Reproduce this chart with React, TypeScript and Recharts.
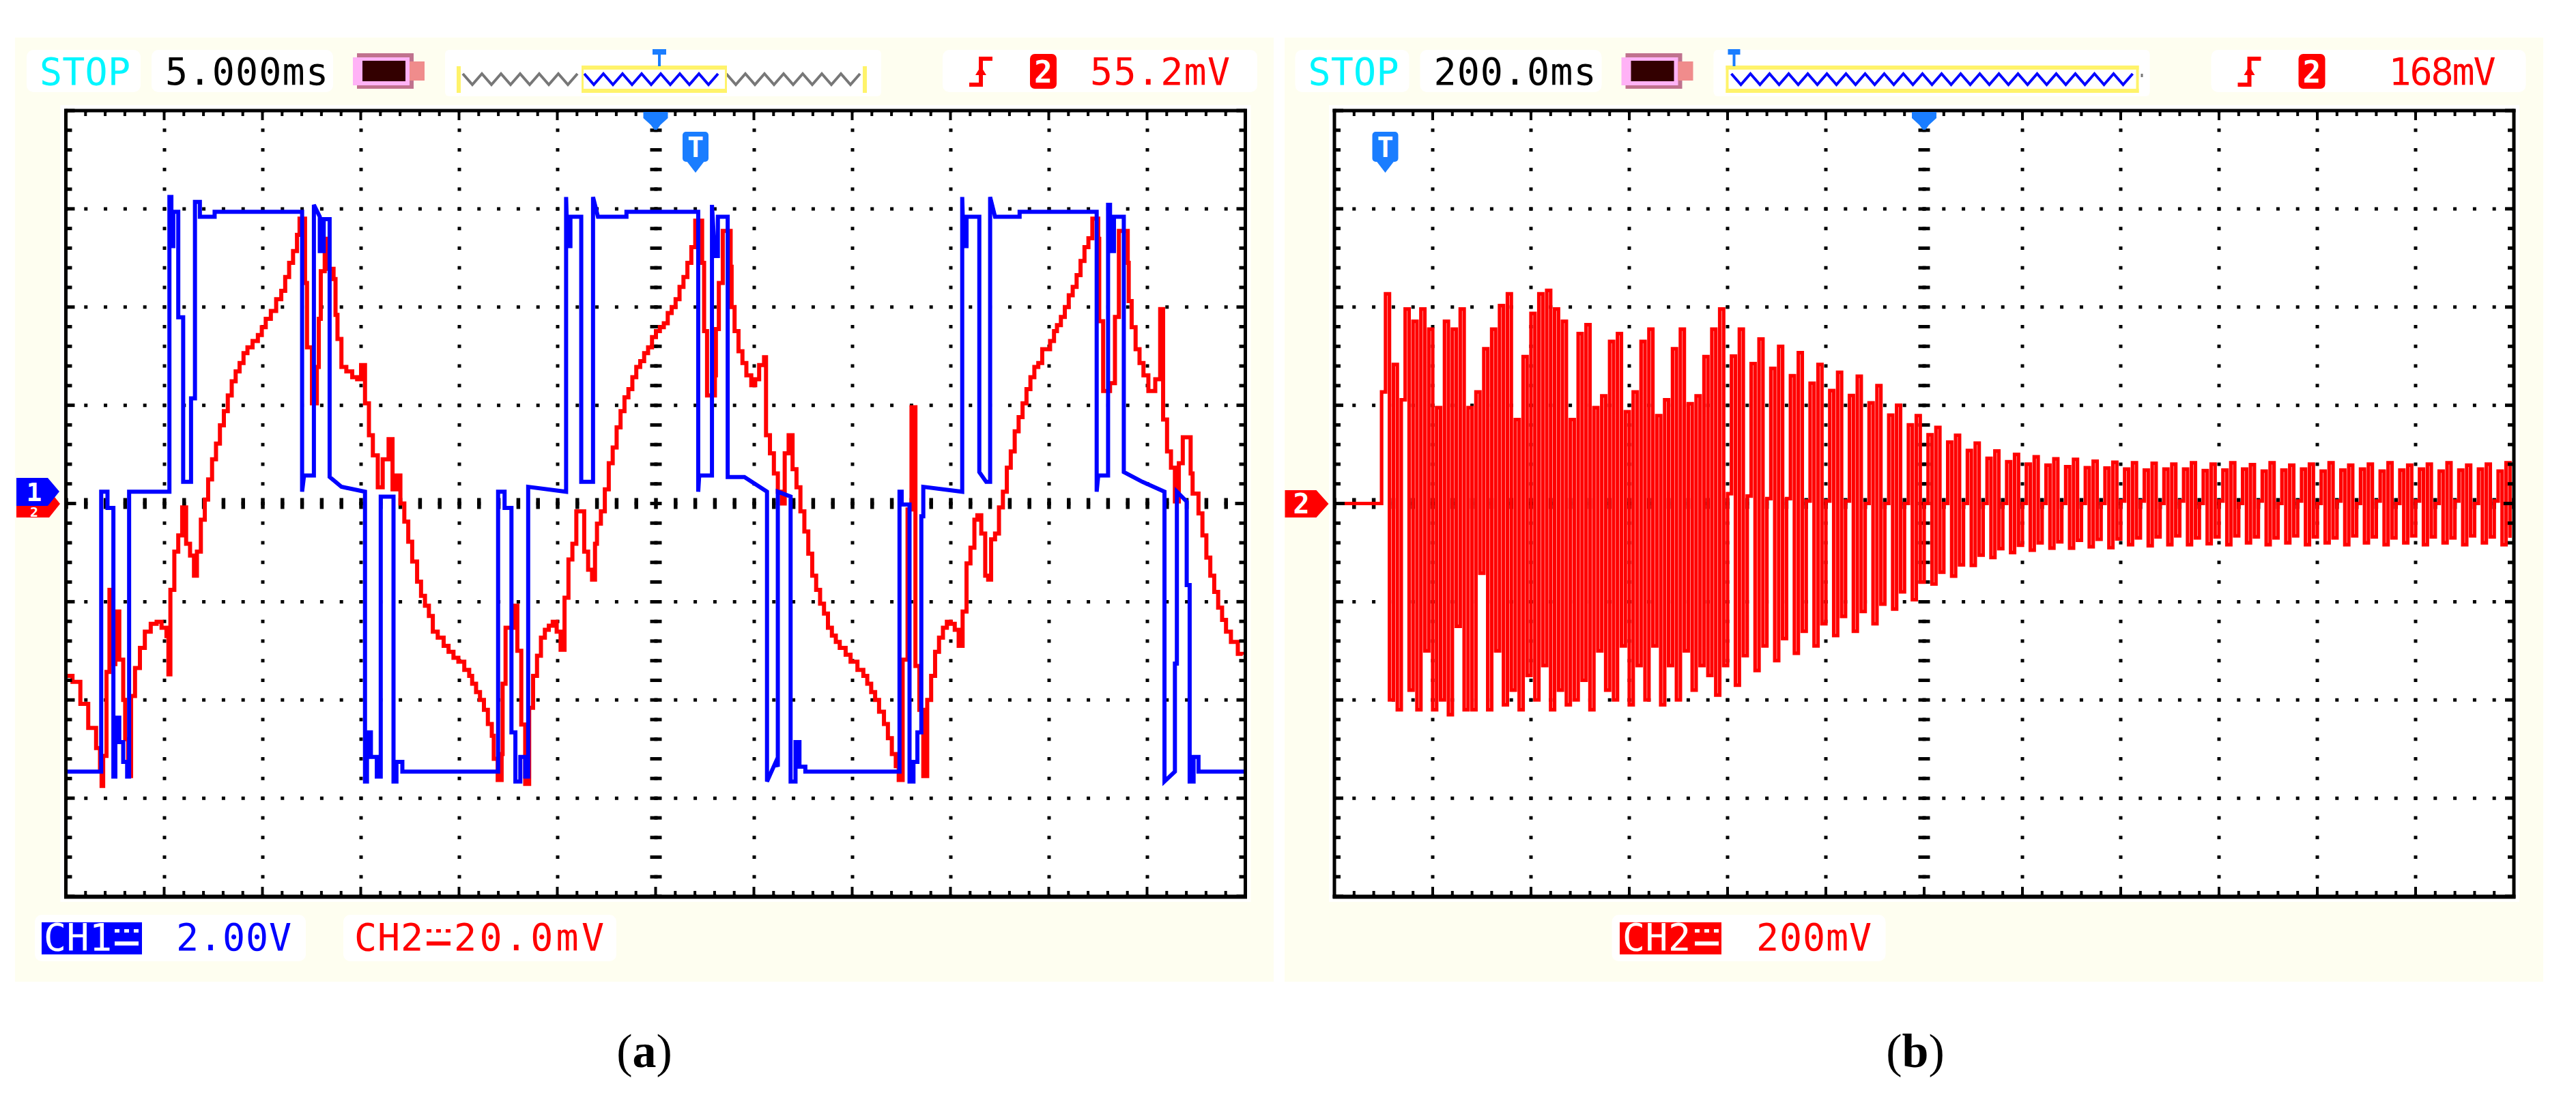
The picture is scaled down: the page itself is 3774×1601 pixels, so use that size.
import React from 'react';
import { LineChart, Line, XAxis, YAxis, CartesianGrid, ReferenceLine } from 'recharts';

// ---------------- data: panel (a) ----------------
// CH1 (blue, volts) — time in ms
const ch1TimeA = [
  0, 1.78, 1.78, 2.1, 2.1, 2.4, 2.4, 2.5, 2.5, 2.7, 2.7, 2.9, 2.9, 3.1, 3.1, 3.2, 3.2, 5.25, 5.25, 5.35, 5.35, 5.45, 5.45, 5.7, 5.7, 5.95, 5.95, 6.35, 6.35, 6.55, 6.55, 6.8, 6.8, 7.55, 7.55, 12.0, 12.0, 12.1, 12.6, 12.6, 12.9, 12.9, 13.1, 13.1, 13.4, 13.4, 14.0, 15.2, 15.2, 15.3, 15.3, 15.5, 15.5, 15.8, 15.8, 16.0, 16.0, 16.65, 16.65, 16.8, 16.8, 17.1, 17.1, 21.97,
  21.97, 22.3, 22.3, 22.65, 22.65, 22.85, 22.85, 23.1, 23.1, 23.35, 23.35, 23.5, 23.5, 25.43, 25.43, 25.5, 25.65, 25.65, 26.2, 26.2, 26.8, 26.8, 27.05, 28.5, 28.5, 32.15, 32.15, 32.2, 32.85, 32.85, 33.0, 33.15, 33.15, 33.65, 33.65, 34.5, 35.65, 35.65, 36.1, 36.2, 36.2, 36.85, 36.85, 37.1, 37.1, 37.3, 37.3, 37.6, 37.6, 42.39,
  42.39, 42.5, 42.5, 42.9, 42.9, 43.1, 43.1, 43.3, 43.3, 43.5, 43.5, 43.6, 43.6, 45.58, 45.58, 45.65, 45.8, 45.8, 46.45, 46.45, 46.8, 47.0, 47.0, 47.25, 48.5, 48.5, 52.42, 52.42, 52.5, 53.0, 53.0, 53.1, 53.1, 53.3, 53.3, 53.8, 53.8, 54.75, 55.87, 55.87, 56.4, 56.4, 56.5, 56.5, 57.0, 57.0, 57.15, 57.15, 57.35, 57.35, 57.6, 57.6, 60,
];
const ch1VoltA = [
  -5.7, -5.7, 0, 0, -0.33, -0.33, -5.8, -5.8, -4.6, -4.6, -5.1, -5.1, -5.5, -5.5, -5.8, -5.8, 0, 0, 6.0, 6.0, 5.0, 5.0, 5.7, 5.7, 3.55, 3.55, 0.2, 0.2, 1.9, 1.9, 5.9, 5.9, 5.6, 5.6, 5.7, 5.7, 0, 0.33, 0.33, 5.84, 5.6, 4.9, 4.9, 5.55, 5.55, 0.3, 0.1, 0, -5.9, -5.9, -4.9, -4.9, -5.4, -5.4, -5.8, -5.8, -0.1, -0.1, -5.9, -5.9, -5.5, -5.5, -5.7, -5.7,
  0, 0, -0.33, -0.33, -4.9, -4.9, -5.9, -5.9, -5.4, -5.4, -5.8, -5.8, 0.1, 0, 6.0, 5.0, 5.0, 5.6, 5.6, 0.2, 0.2, 6.0, 5.6, 5.6, 5.7, 5.7, 0, 0.33, 0.33, 5.84, 4.8, 4.8, 5.6, 5.6, 0.3, 0.3, 0, -5.9, -5.5, -5.6, 0, -0.1, -5.9, -5.9, -5.1, -5.1, -5.6, -5.6, -5.7, -5.7,
  0, 0, -0.26, -0.26, -5.9, -5.9, -5.5, -5.5, -4.9, -4.9, -0.5, -0.5, 0.1, 0, 6.0, 5.0, 5.0, 5.6, 5.6, 0.4, 0.2, 0.2, 6.0, 5.6, 5.6, 5.7, 5.7, 0, 0.33, 0.33, 5.84, 5.84, 4.9, 4.9, 5.6, 5.6, 0.4, 0.2, 0, -5.9, -5.7, -3.5, -3.5, 0, -0.2, -1.9, -1.9, -5.9, -5.9, -5.4, -5.4, -5.7, -5.7,
];
// CH2 (red, mV) — time in ms
const ch2TimeA = [
  0, 0.32, 0.72, 1.12, 1.52, 1.72, 1.8, 1.88, 2.05, 2.2,
  2.3, 2.5, 2.7, 2.9, 3.0, 3.15, 3.3, 3.5, 3.75, 4.0,
  4.3, 4.6, 4.85, 5.1, 5.2, 5.3, 5.5, 5.7, 5.9, 6.1,
  6.3, 6.5, 6.65, 6.85, 7.05, 7.22, 7.42, 7.62, 7.82, 8.02,
  8.22, 8.42, 8.62, 8.82, 9.02, 9.22, 9.48, 9.75, 9.95, 10.15,
  10.41, 10.68, 10.94, 11.14, 11.34, 11.54, 11.74, 11.87, 12.15, 12.25,
  12.4, 12.5, 12.75, 12.85, 12.95, 13.15, 13.25, 13.6, 13.7, 13.8,
  14.0, 14.25, 14.55, 14.8, 15.0, 15.2, 15.4, 15.6, 15.85, 16.1,
  16.4, 16.6, 16.8, 17.0, 17.2, 17.4, 17.6, 17.85, 18.05, 18.25,
  18.45, 18.65, 18.9, 19.2, 19.45, 19.7, 19.95, 20.25, 20.5, 20.65,
  20.85, 21.05, 21.25, 21.45, 21.65, 21.75, 21.95, 22.15, 22.2, 22.35,
  22.75, 22.95, 23.15, 23.35, 23.55, 23.75, 23.95, 24.15, 24.35, 24.55,
  24.75, 24.95, 25.15, 25.35, 25.55, 25.75, 25.95, 26.35, 26.55, 26.75,
  26.9, 27.0, 27.2, 27.4, 27.6, 27.8, 28.0, 28.2, 28.4, 28.6,
  28.8, 29.0, 29.2, 29.4, 29.6, 29.8, 30.0, 30.2, 30.4, 30.6,
  30.8, 31.0, 31.2, 31.4, 31.6, 31.8, 32.0, 32.35, 32.45, 32.6,
  33.0, 33.05, 33.2, 33.4, 33.8, 33.85, 34.0, 34.2, 34.4, 34.6,
  34.85, 35.05, 35.25, 35.5, 35.6, 35.8, 36.0, 36.2, 36.4, 36.55,
  36.75, 36.95, 37.15, 37.35, 37.55, 37.75, 37.95, 38.15, 38.35, 38.55,
  38.75, 38.95, 39.15, 39.35, 39.65, 39.9, 40.25, 40.55, 40.75, 40.95,
  41.15, 41.35, 41.6, 41.8, 42.0, 42.2, 42.35, 42.55, 42.8, 43.0,
  43.2, 43.4, 43.6, 43.8, 44.0, 44.2, 44.4, 44.6, 44.8, 45.0,
  45.2, 45.4, 45.6, 45.8, 46.0, 46.2, 46.35, 46.55, 46.75, 46.9,
  47.05, 47.25, 47.45, 47.65, 47.85, 48.05, 48.25, 48.45, 48.65, 48.85,
  49.05, 49.25, 49.45, 49.65, 49.85, 50.05, 50.25, 50.4, 50.6, 50.8,
  51.0, 51.2, 51.4, 51.6, 51.8, 52.0, 52.2, 52.5, 52.55, 52.75,
  53.1, 53.35, 53.55, 54.0, 54.05, 54.2, 54.4, 54.6, 54.8, 55.05,
  55.4, 55.65, 55.8, 56.0, 56.2, 56.4, 56.6, 56.8, 57.2, 57.3,
  57.6, 57.8, 58.0, 58.2, 58.4, 58.6, 58.8, 59.0, 59.25, 59.6,
  59.85,
];
const ch2MilliVoltA = [
  -35.1, -36.3, -40.8, -45.7, -49.8, -53.9, -57.5, -51.4, -34.3, -17.6,
  -32.7, -22.0, -31.8, -40.0, -48.0, -55.5, -39.2, -33.5, -29.4, -26.1,
  -24.5, -24.1, -25.3, -27.0, -34.8, -17.6, -9.8, -6.5, -0.8, -8.2,
  -10.6, -14.7, -9.8, -3.3, 0.8, 4.9, 9.0, 12.2, 15.9, 18.8,
  22.0, 24.9, 26.9, 28.6, 30.6, 31.8, 33.1, 34.3, 35.9, 37.6,
  39.2, 41.6, 43.3, 46.1, 49.0, 51.4, 54.7, 58.0, 44.9, 31.8,
  31.8, 20.4, 27.8, 37.6, 47.3, 53.9, 47.8, 45.7, 38.4, 33.5,
  27.8, 26.9, 25.7, 25.3, 28.2, 20.4, 13.9, 9.8, 3.3, 9.0,
  13.1, 2.9, 5.7, 0, -3.7, -7.8, -11.8, -15.9, -18.8, -20.8,
  -22.9, -26.1, -27.3, -29.0, -30.2, -31.4, -32.2, -33.9, -35.1, -36.7,
  -38.4, -40.0, -42.0, -44.9, -47.3, -52.0, -56.3, -51.0, -36.7, -25.3,
  -20.8, -30.0, -45.0, -57.1, -41.6, -35.1, -31.0, -27.3, -25.7, -24.9,
  -24.1, -26.1, -29.8, -19.2, -11.4, -8.2, -1.6, -9.8, -13.5, -15.5,
  -8.2, -4.1, -1.6, 2.9, 8.2, 11.4, 15.5, 18.8, 21.6, 23.3,
  25.7, 27.8, 29.0, 30.6, 31.8, 33.9, 35.1, 35.9, 36.7, 38.8,
  40.0, 41.6, 44.1, 46.1, 49.0, 52.2, 57.6, 49.0, 35.1, 22.0,
  26.1, 35.5, 44.9, 55.5, 48.2, 40.0, 35.1, 31.0, 28.6, 26.1,
  24.1, 25.3, 28.2, 29.8, 13.9, 10.2, 6.1, 2.4, 0, 10.2,
  13.9, 7.0, 3.3, -1.6, -5.7, -10.2, -14.7, -17.6, -20.4, -22.4,
  -25.3, -26.9, -28.2, -29.4, -30.8, -32.2, -33.9, -35.1, -36.7, -38.4,
  -40.0, -42.4, -44.9, -47.8, -51.0, -53.5, -56.3, -31.8, -1.2, 19.6,
  -33.1, -42.0, -55.5, -40.0, -35.1, -30.2, -27.3, -25.3, -24.1, -24.5,
  -25.7, -29.0, -22.0, -12.2, -9.0, -3.3, -2.4, -6.1, -14.7, -15.5,
  -7.3, -6.1, -0.8, 2.4, 7.3, 10.6, 14.7, 17.6, 20.4, 23.3,
  25.7, 27.8, 28.6, 31.4, 31.4, 33.1, 35.1, 36.3, 38.0, 40.0,
  42.4, 44.1, 46.5, 49.4, 52.2, 54.0, 58.0, 53.9, 37.1, 22.9,
  24.5, 38.0, 55.5, 49.0, 41.2, 35.9, 31.4, 28.6, 26.1, 22.9,
  25.3, 39.6, 17.1, 10.6, 7.3, 0.4, 8.2, 13.5, 6.1, 2.0,
  -2.0, -6.5, -11.0, -14.7, -18.0, -21.2, -23.7, -26.1, -28.2, -30.6,
  -30.8,
];
const timeTicksA = [0, 5, 10, 15, 20, 25, 30, 35, 40, 45, 50, 55, 60];
const ch2TicksA = [-80, -60, -40, -20, 0, 20, 40, 60, 80];
const ch1DomainA = [-8.24, 7.76];

// ---------------- data: panel (b) ----------------
const ch2SampleMsB = 8;
const ch2MilliVoltB = [
  0, 0, 0, 0, 0, 0, 0, 0, 0, 0, 0, 0, 227, 427, -400, 283, -420, 211, 396, -380, 371, -420, 396, -300, 355,
  -420, 195, -400, 371, -430, 355, -250, 396, -420, 195, -420, 227, -142, 315, -420, 355, -300, 403, -410, 427, -380, 171, -420, 299, -350,
  387, -400, 427, -330, 434, -420, 396, -380, 371, -410, 171, -400, 346, -360, 364, -420, 195, -300, 219, -380, 330, -400, 346, -290, 187,
  -410, 227, -330, 330, -400, 355, -290, 179, -410, 211, -330, 315, -400, 355, -300, 203, -380, 219, -330, 299, -350, 355, -390, 396, -330,
  20, 300, -370, 355, -310, 15, 285, -340, 335, -290, 10, 275, -320, 320, -275, 10, 260, -305, 307, -260, 5, 245, -290, 283, -245,
  5, 230, -269, 267, -230, 5, 220, -260, 259, -220, 0, 205, -245, 240, -205, 0, 180, -215, 200, -180, 0, 160, -196, 179, -160,
  0, 140, -164, 155, -140, 0, 125, -148, 139, -125, 0, 108, -126, 123, -105, 0, 92, -110, 107, -92, 0, 85, -100, 100, -85,
  0, 80, -95, 95, -80, 0, 78, -91, 91, -78, 0, 75, -91, 90, -75, 0, 73, -88, 86, -73, 0, 72, -90, 84, -72,
  5, 70, -84, 83, -70, 5, 68, -86, 82, -68, 0, 70, -84, 80, -66, 5, 70, -84, 83, -70, 0, 67, -82, 80, -68,
  5, 68, -84, 83, -66, 0, 70, -80, 79, -68, 5, 66, -84, 83, -70, 0, 68, -80, 78, -66, 5, 70, -84, 80, -68,
  0, 66, -80, 83, -70, 5, 68, -84, 78, -66, 0, 70, -80, 80, -68, 5, 66, -84, 83, -70, 0, 68, -80, 78, -66,
  5, 70, -84, 80, -68, 0, 66, -80, 83, -70, 5, 68, -84, 78, -66, 0, 70, -80, 80, -68, 5, 66, -84, 83, -70,
];
const timeTicksB = [0, 200, 400, 600, 800, 1000, 1200, 1400, 1600, 1800, 2000, 2200, 2400];
const ch2TicksB = [-800, -600, -400, -200, 0, 200, 400, 600, 800];

const ch1DataA = ch1TimeA.map((t, i) => ({ t, v: ch1VoltA[i] }));
const ch2DataA = ch2TimeA.map((t, i) => ({ t, v: ch2MilliVoltA[i] }));
const ch2DataB = ch2MilliVoltB.map((v, i) => ({ t: i * ch2SampleMsB, v }));

// ---------------- layout / style ----------------
const PW = 1728;
const PH = 1151;
const Y0 = 162;
const X0A = 96.5;
const OB = 1858.5;
const X0B = X0A + OB;
const BLUE = '#0000FF';
const RED = '#FF0000';
const CYAN = '#00F6FF';
const CREAM = '#FEFEF0';
const TBLUE = '#1A7DFF';
const YEL = '#FFF36A';
const MONO = "'DejaVu Sans Mono', 'Liberation Mono', monospace";

const H_DASH = `2.5 ${PW / 60 - 5} 2.5 0`;
const V_DASH = `2.5 ${PH / 40 - 5} 2.5 0`;
const CH_DASH = `2.75 ${PW / 60 - 5.5} 2.75 0`;
const CV_DASH = `2.5 ${PH / 40 - 5} 2.5 0`;

function gridParts(xc: number) {
  return [
    <CartesianGrid key="gh" horizontal vertical={false} stroke="#000" strokeWidth={5} strokeDasharray={H_DASH} fill="none" />,
    <CartesianGrid key="gv" horizontal={false} vertical stroke="#000" strokeWidth={5} strokeDasharray={V_DASH} fill="none" />,
    <ReferenceLine key="cy" y={0} stroke="#000" strokeWidth={16} strokeDasharray={CH_DASH} />,
    <ReferenceLine key="cx" x={xc} stroke="#000" strokeWidth={17} strokeDasharray={CV_DASH} />,
  ];
}

function zigzag(x1: number, x2: number, period: number, yTop: number, yBot: number) {
  const pts: string[] = [];
  const n = Math.floor((x2 - x1) / (period / 2));
  for (let i = 0; i <= n; i++) pts.push(`${x1 + (i * period) / 2},${i % 2 === 0 ? yTop : yBot}`);
  return pts.join(' ');
}

function Frame({ x0 }: { x0: number }) {
  const r: React.ReactNode[] = [];
  const bw = 5;
  r.push(<rect key="t" x={x0 - bw / 2} y={Y0 - bw / 2} width={PW + bw} height={bw} />);
  r.push(<rect key="b" x={x0 - bw / 2} y={Y0 + PH - bw / 2} width={PW + bw} height={bw + 1} />);
  r.push(<rect key="l" x={x0 - bw / 2} y={Y0 - bw / 2} width={bw} height={PH + bw} />);
  r.push(<rect key="r" x={x0 + PW - bw / 2} y={Y0 - bw / 2} width={bw} height={PH + bw} />);
  for (let k = 0; k <= 60; k++) {
    const x = x0 + (k * PW) / 60;
    const len = k % 5 === 0 ? 14 : 8;
    r.push(<rect key={'tt' + k} x={x - 2} y={Y0} width={4} height={len} />);
    r.push(<rect key={'bt' + k} x={x - 2} y={Y0 + PH - len} width={4} height={len} />);
  }
  for (let j = 0; j <= 40; j++) {
    const y = Y0 + (j * PH) / 40;
    const len = j === 20 ? 15 : j % 5 === 0 ? 13 : 9;
    r.push(<rect key={'lt' + j} x={x0} y={y - 2.5} width={len} height={5} />);
    r.push(<rect key={'rt' + j} x={x0 + PW - len} y={y - 2.5} width={len} height={5} />);
  }
  return <g fill="#000">{r}</g>;
}

function Txt(p: { x: number; y: number; w?: number; fill: string; size?: number; weight?: string; anchor?: string; children: React.ReactNode; family?: string }) {
  return (
    <text
      x={p.x}
      y={p.y}
      fill={p.fill}
      fontFamily={p.family || MONO}
      fontSize={p.size || 55}
      fontWeight={p.weight || 'normal'}
      textAnchor={(p.anchor as any) || 'start'}
      textLength={p.w}
      lengthAdjust={p.w ? 'spacing' : undefined}
    >
      {p.children}
    </text>
  );
}

function DC({ x, fill }: { x: number; fill: string }) {
  return (
    <g fill={fill}>
      <rect x={x} y={1361} width={7} height={5} />
      <rect x={x + 14} y={1361} width={7} height={5} />
      <rect x={x + 28} y={1361} width={7} height={5} />
      <rect x={x} y={1379} width={35} height={6} />
    </g>
  );
}

function Battery({ ox }: { ox: number }) {
  return (
    <g>
      <rect x={ox + 523} y={78} width={83} height={52} fill="#C0728E" />
      <rect x={ox + 517} y={84} width={83} height={41} fill="#FFB2F6" />
      <rect x={ox + 531} y={89} width={63} height={30} fill="#330000" />
      <rect x={ox + 600} y={90} width={22} height={28} fill="#F08C8C" />
    </g>
  );
}

function Header({ ox, time, timeW, trig, trigX, trigW, wide }: { ox: number; time: string; timeW: number; trig: string; trigX: number; trigW: number; wide: boolean }) {
  return (
    <g>
      <rect x={ox + 39} y={73} width={167} height={62} rx={10} fill="#fff" />
      <rect x={ox + 222} y={73} width={266} height={62} rx={10} fill="#fff" />
      <rect x={ox + 652} y={73} width={639} height={68} rx={6} fill="#fff" />
      <rect x={ox + 1381} y={73} width={461} height={62} rx={10} fill="#fff" />
      <Txt x={ox + 58} y={124} w={133} fill={CYAN}>STOP</Txt>
      <Txt x={ox + 242} y={124} w={timeW} fill="#000">{time}</Txt>
      <Battery ox={ox} />
      {wide ? (
        <g>
          <rect x={ox + 670} y={96} width={605} height={6} fill={YEL} />
          <rect x={ox + 670} y={130} width={605} height={6} fill={YEL} />
          <rect x={ox + 670} y={96} width={4} height={40} fill={YEL} />
          <rect x={ox + 1271} y={96} width={4} height={40} fill={YEL} />
          <polyline points={zigzag(ox + 678, ox + 1266, 28, 108, 124)} fill="none" stroke={BLUE} strokeWidth={4} />
          <rect x={ox + 1278} y={108} width={3} height={5} fill="#777" />
          <line x1={ox + 682} y1={76} x2={ox + 682} y2={97} stroke={TBLUE} strokeWidth={4} />
          <rect x={ox + 673} y={72} width={18} height={8} fill={TBLUE} />
        </g>
      ) : (
        <g>
          <rect x={ox + 669} y={97} width={6} height={39} fill={YEL} />
          <rect x={ox + 1264} y={97} width={6} height={39} fill={YEL} />
          <polyline points={zigzag(ox + 678, ox + 854, 28, 108, 124)} fill="none" stroke="#777" strokeWidth={4} />
          <polyline points={zigzag(ox + 1064, ox + 1262, 28, 108, 124)} fill="none" stroke="#777" strokeWidth={4} />
          <polyline points={zigzag(ox + 856, ox + 1062, 28, 108, 124)} fill="none" stroke={BLUE} strokeWidth={4} />
          <rect x={ox + 852} y={96} width={213} height={6} fill={YEL} />
          <rect x={ox + 852} y={130} width={213} height={6} fill={YEL} />
          <rect x={ox + 852} y={96} width={3} height={40} fill={YEL} />
          <rect x={ox + 1062} y={96} width={3} height={40} fill={YEL} />
          <line x1={ox + 966} y1={76} x2={ox + 966} y2={97} stroke={TBLUE} strokeWidth={4} />
          <rect x={ox + 956} y={72} width={20} height={8} fill={TBLUE} />
        </g>
      )}
      <path d={`M${ox + 1420} 124 H${ox + 1437} V86 H${ox + 1454}`} fill="none" stroke={RED} strokeWidth={6} />
      <polygon points={`${ox + 1429},110 ${ox + 1445},110 ${ox + 1437},97`} fill={RED} />
      <rect x={ox + 1509} y={79} width={39} height={51} rx={7} fill={RED} />
      <Txt x={ox + 1528.5} y={121} fill="#fff" size={44} weight="bold" anchor="middle">2</Txt>
      <Txt x={ox + trigX} y={124} w={trigW} fill={RED}>{trig}</Txt>
    </g>
  );
}

function PlotMarks({ x0, tx }: { x0: number; tx: number }) {
  const cx = x0 + PW / 2;
  return (
    <g>
      <polygon
        points={`${cx - 18},164 ${cx + 18},164 ${cx + 18},173 ${cx + 7},183 ${cx + 2},190 ${cx - 2},190 ${cx - 7},183 ${cx - 18},173`}
        fill={TBLUE}
      />
      <rect x={x0 + tx - 19} y={193} width={38} height={44} rx={5} fill={TBLUE} />
      <polygon points={`${x0 + tx - 13},236 ${x0 + tx + 13},236 ${x0 + tx},253`} fill={TBLUE} />
      <Txt x={x0 + tx} y={230} fill="#fff" size={40} weight="bold" anchor="middle">T</Txt>
    </g>
  );
}

function Background() {
  return (
    <svg width={3774} height={1601} style={{ position: 'absolute', left: 0, top: 0 }}>
      <rect x={0} y={0} width={3774} height={1601} fill="#fff" />
      <rect x={22} y={55} width={1844} height={1383} fill={CREAM} />
      <rect x={22 + OB + 1.5} y={55} width={1844} height={1383} fill={CREAM} />
      <rect x={X0A - 8} y={Y0 - 8} width={PW + 16} height={PH + 16} fill="#fff" />
      <rect x={X0B - 8} y={Y0 - 8} width={PW + 16} height={PH + 16} fill="#fff" />
    </svg>
  );
}

function Foreground() {
  return (
    <svg width={3774} height={1601} style={{ position: 'absolute', left: 0, top: 0, pointerEvents: 'none' }}>
      <Header ox={0} time="5.000ms" timeW={239} trig="55.2mV" trigX={1597} trigW={205} wide={false} />
      <Header ox={OB} time="200.0ms" timeW={238} trig="168mV" trigX={1641} trigW={157} wide />
      <Frame x0={X0A} />
      <Frame x0={X0B} />
      <PlotMarks x0={X0A} tx={922.5} />
      <PlotMarks x0={X0B} tx={74.5} />
      {/* channel ground markers (CH1 marker drawn over CH2 marker, as on the scope) */}
      <polygon points="24,718 72,718 88,738 72,758 24,758" fill={RED} />
      <Txt x={50} y={757} fill="#fff" size={20} weight="bold" anchor="middle">2</Txt>
      <polygon points="24,700 70,700 87,720 70,741 24,741" fill={BLUE} />
      <Txt x={50} y={734} fill="#fff" size={38} weight="bold" anchor="middle">1</Txt>
      <polygon points={`${24 + OB},718 ${70 + OB},718 ${88 + OB},738 ${70 + OB},758 ${24 + OB},758`} fill={RED} />
      <Txt x={48 + OB} y={752} fill="#fff" size={40} weight="bold" anchor="middle">2</Txt>
      {/* footer (a) */}
      <rect x={51} y={1340} width={397} height={68} rx={10} fill="#fff" />
      <rect x={503} y={1340} width={400} height={68} rx={10} fill="#fff" />
      <rect x={61} y={1351} width={147} height={47} fill={BLUE} />
      <Txt x={64} y={1392} w={100} fill="#fff">CH1</Txt>
      <DC x={168} fill="#fff" />
      <Txt x={258} y={1392} w={169} fill={BLUE}>2.00V</Txt>
      <Txt x={519} y={1392} w={101} fill={RED}>CH2</Txt>
      <DC x={625} fill={RED} />
      <Txt x={665} y={1392} w={220} fill={RED}>20.0mV</Txt>
      {/* footer (b) */}
      <rect x={503 + OB} y={1340} width={401} height={68} rx={10} fill="#fff" />
      <rect x={2373} y={1351} width={149} height={47} fill={RED} />
      <Txt x={2377} y={1392} w={100} fill="#fff">CH2</Txt>
      <DC x={2483} fill="#fff" />
      <Txt x={2573} y={1392} w={169} fill={RED}>200mV</Txt>
      {/* captions */}
      <text x={944} y={1563} fontFamily="'Liberation Serif', 'Times New Roman', serif" fontSize={70} textAnchor="middle" fill="#000">
        (<tspan fontWeight="bold">a</tspan>)
      </text>
      <text x={2806} y={1563} fontFamily="'Liberation Serif', 'Times New Roman', serif" fontSize={70} textAnchor="middle" fill="#000">
        (<tspan fontWeight="bold">b</tspan>)
      </text>
    </svg>
  );
}

export default function App() {
  return (
    <div style={{ position: 'absolute', left: 0, top: 0, width: 3774, height: 1601, background: '#fff' }}>
      <Background />
      <div style={{ position: 'absolute', left: X0A, top: Y0, width: PW, height: PH }}>
        <LineChart width={PW} height={PH} margin={{ top: 0, right: 0, bottom: 0, left: 0 }}>
          <XAxis dataKey="t" type="number" domain={[0, 60]} ticks={timeTicksA} hide allowDataOverflow />
          <YAxis type="number" domain={[-80, 80]} ticks={ch2TicksA} hide allowDataOverflow />
          <YAxis yAxisId="ch1" type="number" domain={ch1DomainA} hide allowDataOverflow />
          {gridParts(30)}
          <Line data={ch2DataA} dataKey="v" type="stepAfter" stroke={RED} strokeWidth={6} strokeLinejoin="miter" dot={false} activeDot={false} isAnimationActive={false} />
          <Line yAxisId="ch1" data={ch1DataA} dataKey="v" type="linear" stroke={BLUE} strokeWidth={6} strokeLinejoin="miter" strokeLinecap="square" dot={false} activeDot={false} isAnimationActive={false} />
        </LineChart>
      </div>
      <div style={{ position: 'absolute', left: X0B, top: Y0, width: PW, height: PH }}>
        <LineChart width={PW} height={PH} margin={{ top: 0, right: 0, bottom: 0, left: 0 }}>
          <XAxis dataKey="t" type="number" domain={[0, 2400]} ticks={timeTicksB} hide allowDataOverflow />
          <YAxis type="number" domain={[-800, 800]} ticks={ch2TicksB} hide allowDataOverflow />
          {gridParts(1200)}
          <Line data={ch2DataB} dataKey="v" type="stepAfter" stroke={RED} strokeWidth={5.2} strokeLinejoin="miter" dot={false} activeDot={false} isAnimationActive={false} />
        </LineChart>
      </div>
      <Foreground />
    </div>
  );
}
